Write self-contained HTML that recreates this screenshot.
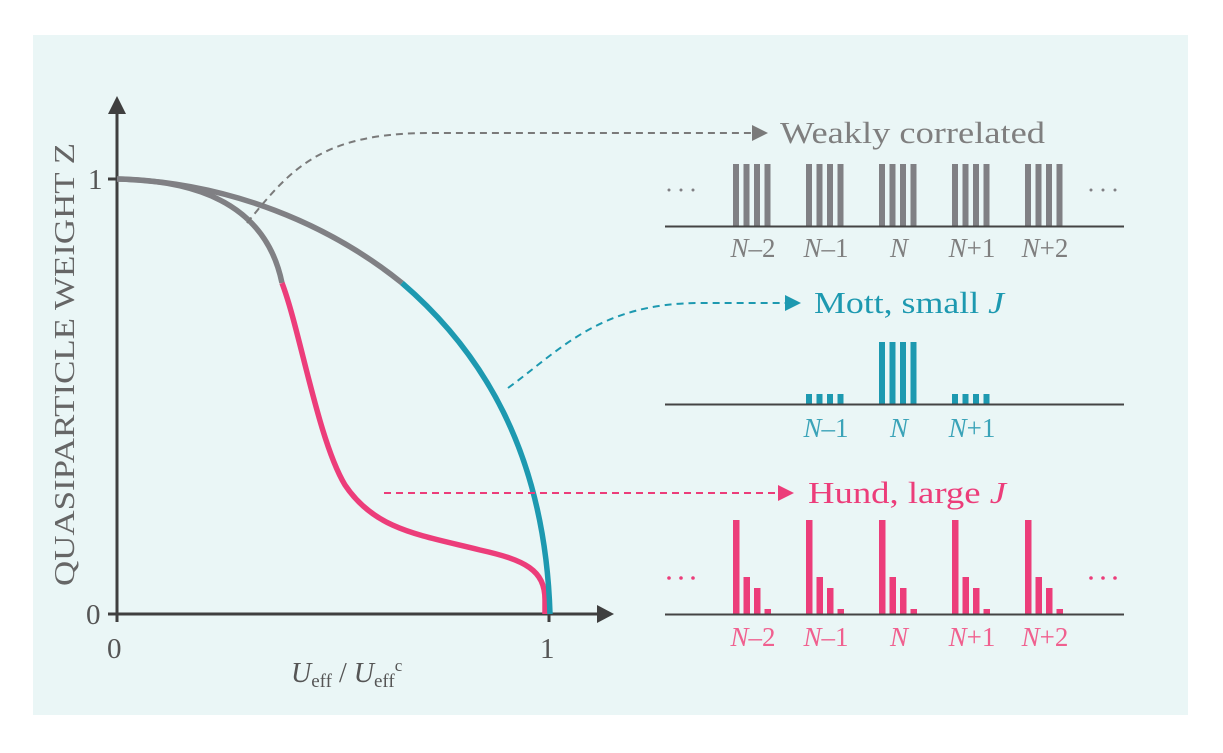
<!DOCTYPE html>
<html><head><style>html,body{margin:0;padding:0;background:#fff}</style></head>
<body>
<svg width="1223" height="748" viewBox="0 0 1223 748" xmlns="http://www.w3.org/2000/svg" font-family="Liberation Serif, serif">
<rect x="33" y="35" width="1155" height="680" fill="#eaf6f6"/>
<g stroke="#3f3f3f" stroke-width="3">
<line x1="117" y1="110" x2="117" y2="622"/>
<line x1="108" y1="614" x2="600" y2="614"/>
<line x1="108" y1="179" x2="117" y2="179"/>
<line x1="549" y1="614" x2="549" y2="622"/>
</g>
<polygon points="117,96 108,114 126,114" fill="#3f3f3f"/>
<polygon points="614,614 597,605 597,623" fill="#3f3f3f"/>
<g fill="#555" font-size="29">
<text x="88" y="189">1</text>
<text x="86" y="624">0</text>
<text x="107" y="658">0</text>
<text x="540" y="658">1</text>
</g>
<text transform="translate(74,586) rotate(-90)" font-size="28" fill="#666" textLength="443" lengthAdjust="spacingAndGlyphs">QUASIPARTICLE WEIGHT Z</text>
<text x="291" y="682" font-size="28" fill="#555"><tspan font-style="italic">U</tspan><tspan font-size="19" dy="5">eff</tspan><tspan dy="-5"> / </tspan><tspan font-style="italic">U</tspan><tspan font-size="19" dy="5">eff</tspan><tspan font-size="17" dy="-16">c</tspan></text>
<g fill="none" stroke-width="5.5">
<path d="M117,179 C190,180 265,200 282,283" stroke="#808084"/>
<path d="M282,283 C300,330 318,440 345,485 C375,530 420,535 480,550 C525,560 545,570 545,600 L545,614" stroke="#ec3d7a"/>
<path d="M117,179 C230,182 330,225 402,283" stroke="#808084"/>
<path d="M402,283 C480,350 545,450 550,614" stroke="#1d99b0"/>
</g>
<g fill="none" stroke-width="2" stroke-dasharray="7,5">
<path d="M247,223 C290,170 320,133 430,133 L752,133" stroke="#7a7a7a"/>
<path d="M508,388 C560,350 600,303 700,303 L785,303" stroke="#1d99b0"/>
<path d="M384,493 L778,493" stroke="#ec3d7a"/>
</g>
<polygon points="768,133 752,125 752,141" fill="#7a7a7a"/>
<polygon points="801,303 785,295 785,311" fill="#1d99b0"/>
<polygon points="794,493 778,485 778,501" fill="#ec3d7a"/>
<g font-size="31">
<text x="780" y="143" fill="#7f7f7f" textLength="265" lengthAdjust="spacingAndGlyphs">Weakly correlated</text>
<text x="814" y="313" fill="#1d99b0" textLength="190" lengthAdjust="spacingAndGlyphs">Mott, small <tspan font-style="italic">J</tspan></text>
<text x="808" y="503" fill="#ec3d7a" textLength="198" lengthAdjust="spacingAndGlyphs">Hund, large <tspan font-style="italic">J</tspan></text>
</g>
<g fill="#808084">
<g id="wg"><rect x="733" y="164" width="6" height="62"/><rect x="743.5" y="164" width="6" height="62"/><rect x="754" y="164" width="6" height="62"/><rect x="764.5" y="164" width="6" height="62"/></g>
<use href="#wg" x="73"/><use href="#wg" x="146"/><use href="#wg" x="219"/><use href="#wg" x="292"/>
</g>
<line x1="665" y1="226.5" x2="1124" y2="226.5" stroke="#444" stroke-width="2"/>
<g fill="#1d99b0">
<g id="mc"><rect x="879" y="342" width="6" height="62"/><rect x="889.5" y="342" width="6" height="62"/><rect x="900" y="342" width="6" height="62"/><rect x="910.5" y="342" width="6" height="62"/></g>
<g id="ms"><rect x="806" y="394" width="6" height="10"/><rect x="816.5" y="394" width="6" height="10"/><rect x="827" y="394" width="6" height="10"/><rect x="837.5" y="394" width="6" height="10"/></g>
<use href="#ms" x="146"/>
</g>
<line x1="665" y1="404.5" x2="1124" y2="404.5" stroke="#444" stroke-width="2"/>
<g fill="#ec3d7a">
<g id="hg"><rect x="733" y="520" width="6.5" height="94"/><rect x="743.5" y="577" width="6.5" height="37"/><rect x="754" y="588" width="6.5" height="26"/><rect x="764.5" y="609" width="6.5" height="5"/></g>
<use href="#hg" x="73"/><use href="#hg" x="146"/><use href="#hg" x="219"/><use href="#hg" x="292"/>
</g>
<line x1="665" y1="614.5" x2="1124" y2="614.5" stroke="#444" stroke-width="2"/>
<g fill="#808084"><circle cx="669" cy="190" r="1.5"/><circle cx="681" cy="190" r="1.5"/><circle cx="693" cy="190" r="1.5"/><circle cx="1091" cy="190" r="1.5"/><circle cx="1103" cy="190" r="1.5"/><circle cx="1115" cy="190" r="1.5"/></g>
<g fill="#ec3d7a"><circle cx="669" cy="578" r="1.8"/><circle cx="681" cy="578" r="1.8"/><circle cx="693" cy="578" r="1.8"/><circle cx="1091" cy="578" r="1.8"/><circle cx="1103" cy="578" r="1.8"/><circle cx="1115" cy="578" r="1.8"/></g>
<g font-size="27" fill="#7f7f7f" text-anchor="middle">
<text x="753" y="257"><tspan font-style="italic">N</tspan>–2</text>
<text x="826" y="257"><tspan font-style="italic">N</tspan>–1</text>
<text x="899" y="257"><tspan font-style="italic">N</tspan></text>
<text x="972" y="257"><tspan font-style="italic">N</tspan>+1</text>
<text x="1045" y="257"><tspan font-style="italic">N</tspan>+2</text>
</g>
<g font-size="27" fill="#3aa3b8" text-anchor="middle">
<text x="826" y="437"><tspan font-style="italic">N</tspan>–1</text>
<text x="899" y="437"><tspan font-style="italic">N</tspan></text>
<text x="972" y="437"><tspan font-style="italic">N</tspan>+1</text>
</g>
<g font-size="27" fill="#f0608f" text-anchor="middle">
<text x="753" y="646"><tspan font-style="italic">N</tspan>–2</text>
<text x="826" y="646"><tspan font-style="italic">N</tspan>–1</text>
<text x="899" y="646"><tspan font-style="italic">N</tspan></text>
<text x="972" y="646"><tspan font-style="italic">N</tspan>+1</text>
<text x="1045" y="646"><tspan font-style="italic">N</tspan>+2</text>
</g>
</svg>
</body></html>
